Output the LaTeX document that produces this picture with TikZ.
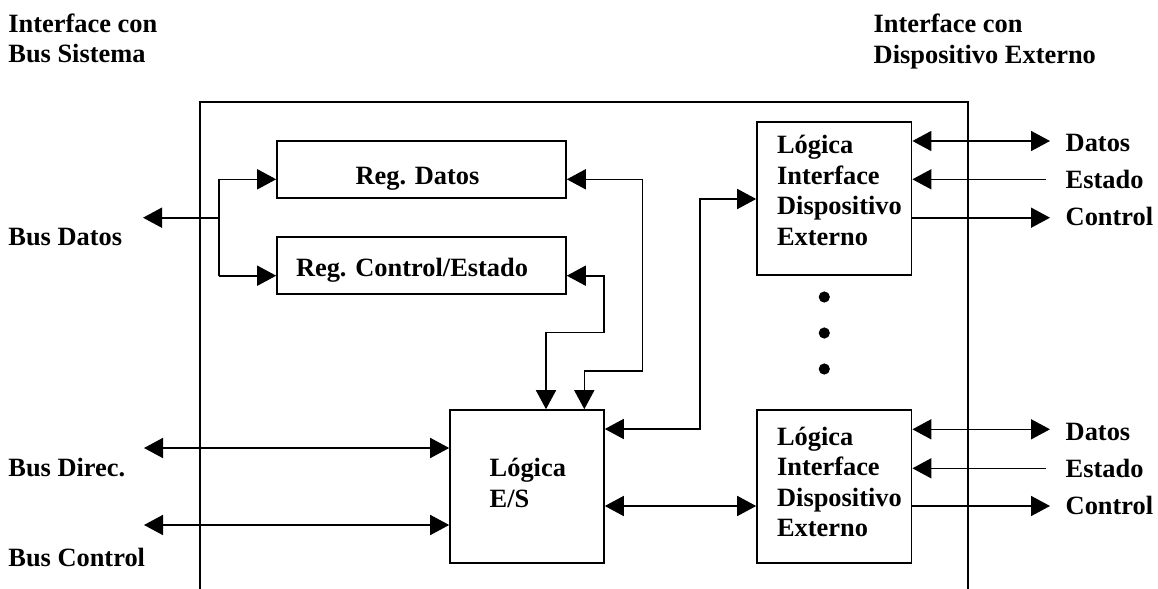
\documentclass[tikz,border=0pt]{standalone}
\usepackage{fontspec}
\setmainfont{Liberation Serif}
\usetikzlibrary{arrows.meta}
\begin{document}
\begin{tikzpicture}[x=0.5pt,y=-0.5pt,
  txt/.style={font=\bfseries\fontsize{13.2}{15.2}\selectfont, inner sep=0pt, align=left},
  box/.style={draw, line width=0.8pt, inner sep=0pt},
  regbox/.style={box, minimum width=144.5pt, minimum height=28.5pt},
  devbox/.style={box, minimum width=77.3pt, minimum height=76.6pt},
  wire/.style={line width=0.8pt},
  arr/.style={wire, -{Triangle[length=9.5pt,width=10pt]}},
  arrs/.style={wire, {Triangle[length=9.5pt,width=10pt]}-{Triangle[length=9.5pt,width=10pt]}},
  dot/.style={circle, fill, inner sep=0pt, minimum size=5.6pt}
]
\useasboundingbox (0,0) rectangle (1158,589);

% titles
\node[txt, anchor=base west] (ttlL) at (8,62.7) {Interface con\\Bus Sistema};
\node[txt, anchor=base west] (ttlR) at (873.3,63.3) {Interface con\\Dispositivo Externo};

% module frame (open at the bottom)
\draw[line width=0.65pt] (200,589) -- (200,102) -- (968,102) -- (968,589);

% registers
\node[regbox] (regd) at (421.5,169.5) {};
\node[txt, anchor=base] (regdT) at (417.5,184.3) {Reg. Datos};
\node[regbox] (regc) at (421.5,265.5) {};
\node[txt, anchor=base] (regcT) at (412,276.7) {Reg. Control/Estado};

% I/O logic
\node[box, minimum width=77pt, minimum height=76.4pt] (les) at (527,486.4) {};
\node[txt, anchor=base west] (lesT) at (489.3,507) {Lógica\\E/S};

% external device interface logic blocks
\node[devbox] (lid1) at (834.3,198.4) {};
\node[txt, anchor=base west] (lid1T) at (776.7,245) {Lógica\\Interface\\Dispositivo\\Externo};
\node[devbox] (lid2) at (834.3,486.4) {};
\node[txt, anchor=base west] (lid2T) at (776.7,536.4) {Lógica\\Interface\\Dispositivo\\Externo};

\node[dot] (d1) at (824.3,297) {};
\node[dot] (d2) at (824.3,333) {};
\node[dot] (d3) at (824.3,369) {};

% bus labels
\node[txt, anchor=base west] (lbDat) at (8,245) {Bus Datos};
\node[txt, anchor=base west] (lbDir) at (8,476.7) {Bus Direc.};
\node[txt, anchor=base west] (lbCtl) at (8,566.7) {Bus Control};

% device side labels
\node[txt, anchor=base west] (u1) at (1065.3,151) {Datos};
\node[txt, anchor=base west] (u2) at (1065.3,188.3) {Estado};
\node[txt, anchor=base west] (u3) at (1065.3,225.5) {Control};
\node[txt, anchor=base west] (v1) at (1065.3,440) {Datos};
\node[txt, anchor=base west] (v2) at (1065.3,477) {Estado};
\node[txt, anchor=base west] (v3) at (1065.3,514) {Control};

% data bus to the registers
\coordinate (busD) at (143,217.7);
\coordinate (jD) at (219,217.7);
\coordinate (jDt) at (219,179.3);
\coordinate (jDb) at (219,275.7);
\draw[arr] (jD) -- (busD);
\draw[wire] (jDt) -- (jDb);
\draw[arr] (jDt) -- (jDt -| regd.west);
\draw[arr] (jDb) -- (jDb -| regc.west);

% registers to the I/O logic
\coordinate (rd1) at (642.3,179.3);
\coordinate (rd2) at (642.3,370.7);
\coordinate (rd3) at (584.3,370.7);
\draw[arrs] (rd1 -| regd.east) -- (rd1) -- (rd2) -- (rd3) -- (rd3 |- les.north);
\coordinate (rc1) at (603.7,275.7);
\coordinate (rc2) at (603.7,332.3);
\coordinate (rc3) at (546,332.3);
\draw[arrs] (rc1 -| regc.east) -- (rc1) -- (rc2) -- (rc3) -- (rc3 |- les.north);

% address and control buses
\coordinate (busA) at (144,448);
\coordinate (busC) at (144,525);
\draw[arrs] (busA) -- (busA -| les.west);
\draw[arrs] (busC) -- (busC -| les.west);

% I/O logic to the device blocks
\coordinate (k1) at (700,429);
\coordinate (k2) at (700,199);
\draw[arrs] (k1 -| les.east) -- (k1) -- (k2) -- (k2 -| lid1.west);
\coordinate (k3) at (680,506);
\draw[arrs] (k3 -| les.east) -- (k3 -| lid2.west);

% device side lines
\coordinate (e1d) at (1050,141);
\coordinate (e1s) at (1046,179.3);
\coordinate (e1c) at (1050,217.7);
\draw[arrs] (e1d -| lid1.east) -- (e1d);
\draw[arr] (e1s) -- (e1s -| lid1.east);
\draw[arr] (e1c -| lid1.east) -- (e1c);
\coordinate (e2d) at (1050,429.3);
\coordinate (e2s) at (1046,468.3);
\coordinate (e2c) at (1050,506);
\draw[arrs] (e2d -| lid2.east) -- (e2d);
\draw[arr] (e2s) -- (e2s -| lid2.east);
\draw[arr] (e2c -| lid2.east) -- (e2c);
\end{tikzpicture}
\end{document}
